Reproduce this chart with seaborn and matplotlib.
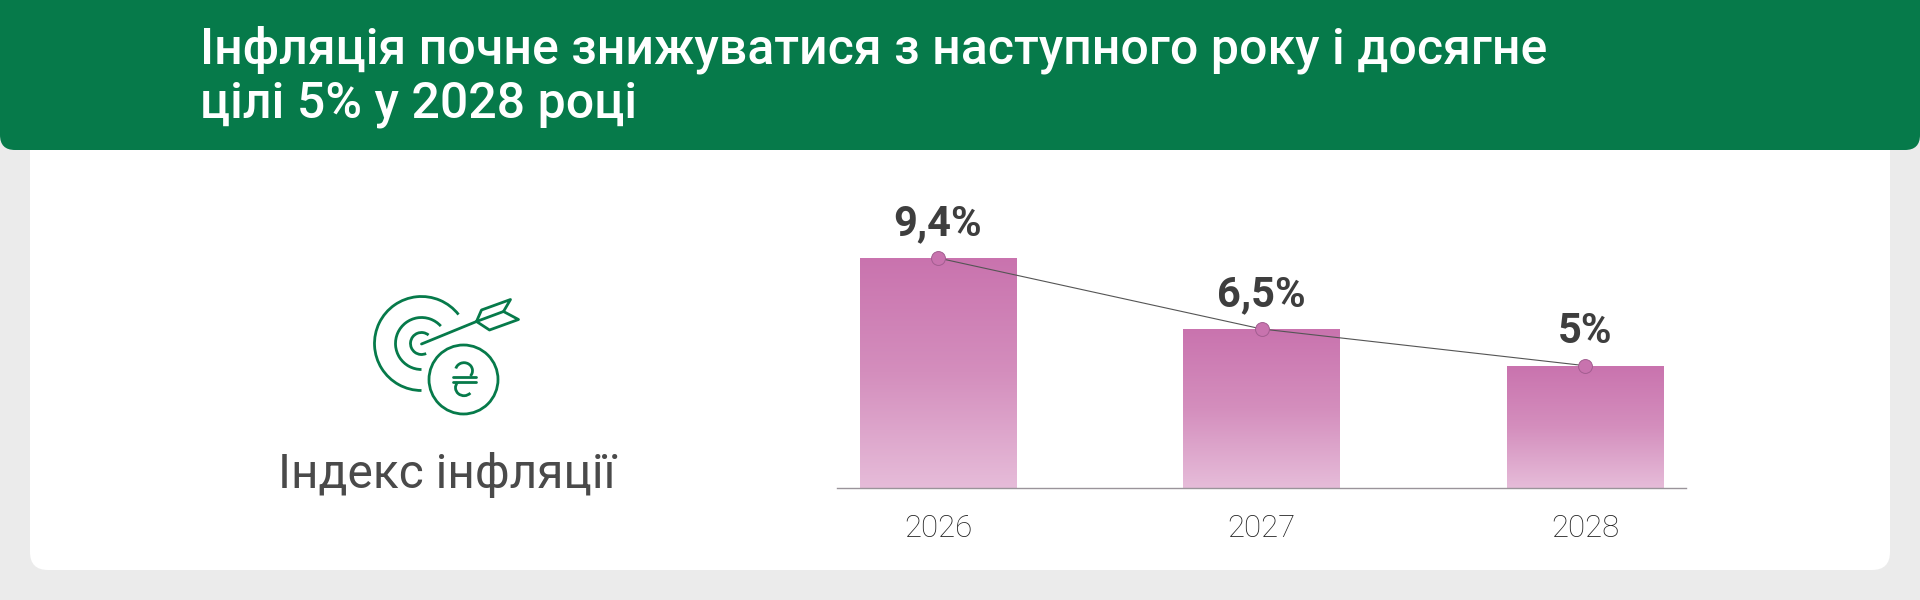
"""
Inflation target card (bars with a line on top)
"""
import numpy as np
import matplotlib.pyplot as plt
import pandas as pd
import seaborn as sns
from matplotlib.colors import LinearSegmentedColormap
from matplotlib.patches import Arc, Circle, FancyBboxPatch, Polygon

years = ['2026', '2027', '2028']
inflation = [9.4, 6.5, 5.0]
value_labels = ['9,4%', '6,5%', '5%']
title_lines = ['Інфляція почне знижуватися з наступного року і досягне', 'цілі 5% у 2028 році']
side_label = 'Індекс інфляції'

GREEN = '#067A4A'
DARK = '#3E3E3E'
GREY_TEXT = '#4A4A4A'


def draw_frame(bg):
    bg.set_xlim(0, 1920)
    bg.set_ylim(600, 0)
    bg.axis('off')
    bg.add_patch(FancyBboxPatch((30, 100), 1860, 470, boxstyle='round,pad=0,rounding_size=18',
                                fc='white', ec='none'))
    bg.add_patch(FancyBboxPatch((0, -40), 1920, 190, boxstyle='round,pad=0,rounding_size=15',
                                fc=GREEN, ec='none', clip_on=True))
    for i, line in enumerate(title_lines):
        bg.text(200, 64 + 53 * i, line, color='white', fontsize=36, fontweight='medium',
                ha='left', va='baseline')
    bg.text(447, 488, side_label, color=GREY_TEXT, fontsize=34.5, ha='center', va='baseline')


def draw_icon(bg):
    lw = 2.0
    style = dict(color=GREEN, lw=lw, fill=False)
    cx, cy = 421.5, 343.5
    # y axis is flipped here, so angles run clockwise on screen
    bg.add_patch(Arc((cx, cy), 94, 94, theta1=90, theta2=322, ec=GREEN, lw=lw))
    bg.add_patch(Arc((cx, cy), 52, 52, theta1=90, theta2=318, ec=GREEN, lw=lw))
    bg.add_patch(Arc((cx, cy), 22, 22, theta1=65, theta2=310, ec=GREEN, lw=lw))
    bg.add_patch(Circle((463.5, 379.5), 34.5, **style))
    bg.plot([421.5, 476.5], [344, 321.5], color=GREEN, lw=lw, solid_capstyle='round')
    bg.plot([476.5, 503.5], [321.5, 311.5], color=GREEN, lw=lw, solid_capstyle='round')
    bg.add_patch(Polygon([(476.5, 321.5), (481.5, 310), (510.5, 299.5), (503.5, 311.5),
                          (518.5, 319.5), (489.5, 330)], closed=True, joinstyle='round', **style))
    # hryvnia sign inside the coin
    bg.add_patch(Arc((464, 370.7), 17, 16, theta1=195, theta2=400, ec=GREEN, lw=lw))
    bg.add_patch(Arc((464, 387.7), 17, 16, theta1=40, theta2=220, ec=GREEN, lw=lw))
    bg.plot([452.7, 476], [377.3, 377.3], color=GREEN, lw=lw)
    bg.plot([452.7, 476], [382.3, 382.3], color=GREEN, lw=lw)


def main():
    sns.set_theme(style='white')
    plt.rcParams['font.family'] = ['Roboto', 'DejaVu Sans']

    df = pd.DataFrame({'year': years, 'inflation': inflation})

    fig = plt.figure(figsize=(19.2, 6), dpi=100, facecolor='#EBEBEB')
    bg = fig.add_axes([0, 0, 1, 1], facecolor='none')
    draw_frame(bg)
    draw_icon(bg)

    # axes box in px: x 837-1686, y 200-488
    ax = fig.add_axes([837 / 1920, 1 - 488 / 600, 849 / 1920, 288 / 600], facecolor='none')
    sns.barplot(data=df, x='year', y='inflation', ax=ax, width=0.483, color='#C973AE', linewidth=0)

    cmap = LinearSegmentedColormap.from_list('bar_fade', ['#C973AE', '#D48EBD', '#E6BCD9'])
    fade = np.linspace(0, 1, 256).reshape(-1, 1)
    for bar in ax.patches:
        x0, w, h = bar.get_x(), bar.get_width(), bar.get_height()
        im = ax.imshow(fade, cmap=cmap, extent=(x0, x0 + w, 0, h), aspect='auto', zorder=2)
        im.set_clip_path(bar)
        bar.set_visible(False)

    sns.pointplot(data=df, x='year', y='inflation', ax=ax, color='#555555', markers='o',
                  markersize=10, linewidth=0.8, errorbar=None, zorder=4)
    line = ax.lines[-1]
    line.set_markerfacecolor('#C873AE')
    line.set_markeredgecolor('#A25E90')
    line.set_markeredgewidth(0.7)

    for i, val in enumerate(inflation):
        ax.annotate(value_labels[i], (i, val), xytext=(0, 16.2), textcoords='offset points',
                    ha='center', va='baseline', fontsize=30, fontweight='bold', color=DARK)

    ax.set_xlim(-0.312, 2.312)
    ax.set_ylim(0, 288 / 24.47)
    ax.set_xlabel('')
    ax.set_ylabel('')
    ax.set_yticks([])
    ax.tick_params(axis='x', length=0, pad=19, labelsize=22.5, labelcolor='#222222')
    for lab in ax.get_xticklabels():
        lab.set_fontweight('light')
    sns.despine(ax=ax, left=True)
    ax.spines['bottom'].set_color('#9A949A')
    ax.spines['bottom'].set_linewidth(1)

    plt.savefig('out.png', dpi=100, facecolor=fig.get_facecolor())


if __name__ == '__main__':
    main()
